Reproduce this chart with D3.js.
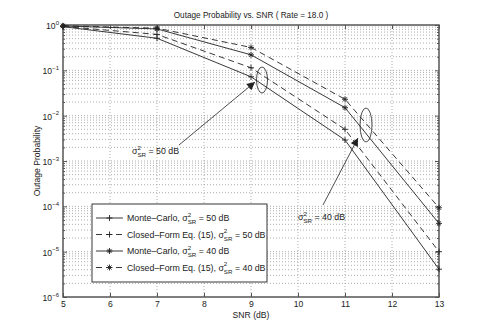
<!DOCTYPE html>
<html>
<head>
<meta charset="utf-8">
<script src="https://cdn.jsdelivr.net/npm/d3@7"></script>
<style>
  html, body { margin: 0; padding: 0; background: #fff; overflow: hidden; }
  svg { display: block; }
  text { font-family: "Liberation Sans", Arial, sans-serif; fill: #222; }
</style>
</head>
<body>
<svg width="485" height="334"></svg>
<script>
const snr = [5, 7, 9, 11, 13]
const mc50 = [0.92, 0.51, 0.072, 0.0029, 4.1e-6]
const cf50 = [0.93, 0.62, 0.114, 0.005, 1.0e-5]
const mc40 = [0.95, 0.82, 0.22, 0.015, 4.2e-5]
const cf40 = [0.96, 0.85, 0.32, 0.023, 9.3e-5]
const xTicks = [5, 6, 7, 8, 9, 10, 11, 12, 13]
const yExps = [0, -1, -2, -3, -4, -5, -6]

const series = [
  { name: 'Monte–Carlo, ', sr: '= 50 dB', values: mc50, dashed: false, marker: 'plus' },
  { name: 'Closed–Form Eq. (15),  ', sr: '= 50 dB', values: cf50, dashed: true, marker: 'plus' },
  { name: 'Monte–Carlo, ', sr: '= 40 dB', values: mc40, dashed: false, marker: 'star' },
  { name: 'Closed–Form Eq. (15),  ', sr: '= 40 dB', values: cf40, dashed: true, marker: 'star' }
]

const svg = d3.select('svg')
const margin = { top: 25, right: 46, bottom: 37, left: 63 }
const innerWidth = 485 - margin.left - margin.right
const innerHeight = 334 - margin.top - margin.bottom
const ink = '#222'
const fs = 8.6

const g = svg.append('g').attr('transform', `translate(${margin.left},${margin.top})`)

const xScale = d3.scaleLinear().domain([5, 13]).range([0, innerWidth])
const yScale = d3.scaleLog().domain([1e-6, 1]).range([innerHeight, 0])

// minor values for the log axis
const minor = []
for (let e = -6; e < 0; e++) {
  for (let m = 2; m <= 9; m++) minor.push(m * Math.pow(10, e))
}

// grid
const grid = g.append('g').attr('stroke', '#999').attr('stroke-width', 0.8).attr('stroke-dasharray', '1,2')
grid.selectAll('line.gx').data(xTicks.slice(1, -1)).join('line')
  .attr('x1', d => xScale(d)).attr('x2', d => xScale(d))
  .attr('y1', 0).attr('y2', innerHeight)
grid.selectAll('line.gy').data(minor.concat(yExps.slice(1, -1).map(e => Math.pow(10, e)))).join('line')
  .attr('x1', 0).attr('x2', innerWidth)
  .attr('y1', d => yScale(d)).attr('y2', d => yScale(d))

// tick-only axes (no labels)
const tickOnly = (axis, tx, ty) => g.append('g').attr('transform', `translate(${tx},${ty})`).call(axis)
  .call(a => a.select('.domain').remove())
  .call(a => a.selectAll('text').remove())
  .call(a => a.selectAll('line').attr('stroke', '#555'))

const xAxis = d3.axisBottom(xScale).tickValues(xTicks).tickSize(-4).tickPadding(4).tickFormat(d3.format('d'))
g.append('g').attr('transform', `translate(0,${innerHeight})`).call(xAxis)
  .call(a => a.select('.domain').remove())
  .call(a => a.selectAll('line').attr('stroke', '#555'))
  .call(a => a.selectAll('text').attr('font-size', fs).style('fill', ink))
tickOnly(d3.axisTop(xScale).tickValues(xTicks).tickSize(-4), 0, 0)

const yMajor = yExps.map(e => Math.pow(10, e))
tickOnly(d3.axisLeft(yScale).tickValues(yMajor).tickSize(-4), 0, 0)
tickOnly(d3.axisRight(yScale).tickValues(yMajor).tickSize(-4), innerWidth, 0)
tickOnly(d3.axisLeft(yScale).tickValues(minor).tickSize(-2), 0, 0)
tickOnly(d3.axisRight(yScale).tickValues(minor).tickSize(-2), innerWidth, 0)

// y tick labels 10^e, exponent as its own text
yExps.forEach(e => {
  const y = yScale(Math.pow(10, e))
  const expText = g.append('text').attr('font-size', 6).attr('y', y - 0.5)
    .attr('text-anchor', 'end').attr('x', -4)
    .text(e === 0 ? '0' : '\u2212' + (-e))
  const w = expText.node().getComputedTextLength()
  g.append('text').attr('font-size', fs).attr('x', -4 - w).attr('y', y + 4)
    .attr('text-anchor', 'end').text('10')
})

// box
g.append('rect').attr('width', innerWidth).attr('height', innerHeight)
  .attr('fill', 'none').attr('stroke', '#555').attr('stroke-width', 1.5)

// markers
function drawMarker (sel, type, x, y) {
  const s = 3
  const m = sel.append('g').attr('transform', `translate(${x},${y})`).attr('stroke', ink).attr('stroke-width', 0.9)
  m.append('line').attr('x1', -s).attr('x2', s)
  m.append('line').attr('y1', -s).attr('y2', s)
  if (type === 'star') {
    m.append('line').attr('x1', -s * 0.7).attr('x2', s * 0.7).attr('y1', -s * 0.7).attr('y2', s * 0.7)
    m.append('line').attr('x1', -s * 0.7).attr('x2', s * 0.7).attr('y1', s * 0.7).attr('y2', -s * 0.7)
  }
}

const line = d3.line().x((d, i) => xScale(snr[i])).y(d => yScale(d))
const plot = g.append('g')
series.forEach(s => {
  plot.append('path').attr('d', line(s.values))
    .attr('fill', 'none').attr('stroke', ink).attr('stroke-width', 0.9)
    .attr('stroke-dasharray', s.dashed ? '6,4' : null)
  s.values.forEach((v, i) => drawMarker(plot, s.marker, xScale(snr[i]), yScale(v)))
})

// annotations
svg.append('defs').append('marker').attr('id', 'ah')
  .attr('viewBox', '0 0 10 10').attr('refX', 10).attr('refY', 5)
  .attr('markerWidth', 10).attr('markerHeight', 8).attr('markerUnits', 'userSpaceOnUse')
  .attr('orient', 'auto')
  .append('path').attr('d', 'M0,0 L10,5 L0,10 z').attr('fill', ink)

const ann = svg.append('g')
ann.append('ellipse').attr('cx', 262).attr('cy', 80).attr('rx', 5.5).attr('ry', 13)
  .attr('fill', 'none').attr('stroke', ink).attr('stroke-width', 0.8)
ann.append('ellipse').attr('cx', 366).attr('cy', 125).attr('rx', 6).attr('ry', 17)
  .attr('fill', 'none').attr('stroke', ink).attr('stroke-width', 0.8)
ann.append('line').attr('x1', 179).attr('y1', 145).attr('x2', 255).attr('y2', 82)
  .attr('stroke', ink).attr('stroke-width', 0.8).attr('marker-end', 'url(#ah)')
ann.append('line').attr('x1', 323).attr('y1', 205).attr('x2', 358).attr('y2', 138)
  .attr('stroke', ink).attr('stroke-width', 0.8).attr('marker-end', 'url(#ah)')

// "prefix σ²_SR suffix" built from separate text pieces placed side by side
function sigmaText (sel, x, y, prefix, suffix, size) {
  const small = size * 0.7
  const main = sel.append('text').attr('x', x).attr('y', y).attr('font-size', size).text(prefix + 'σ')
  const x1 = x + main.node().getComputedTextLength()
  sel.append('text').attr('x', x1).attr('y', y - 4.5).attr('font-size', small).text('2')
  const sr = sel.append('text').attr('x', x1).attr('y', y + 3).attr('font-size', small).text('SR')
  const x2 = x1 + sr.node().getComputedTextLength() + 2.5
  sel.append('text').attr('x', x2).attr('y', y).attr('font-size', size).text(suffix)
}
sigmaText(ann, 132, 154, '', '= 50 dB', 8.8)
sigmaText(ann, 298, 220, '', '= 40 dB', 8.8)

// legend
const lg = svg.append('g').attr('transform', 'translate(92,204)')
lg.append('rect').attr('width', 175).attr('height', 78)
  .attr('fill', '#fff').attr('stroke', ink).attr('stroke-width', 0.9)
series.forEach((s, i) => {
  const y = 14 + i * 16.5
  lg.append('line').attr('x1', 4).attr('x2', 31).attr('y1', y).attr('y2', y)
    .attr('stroke', ink).attr('stroke-width', 0.9)
    .attr('stroke-dasharray', s.dashed ? '6,4' : null)
  drawMarker(lg, s.marker, 17.5, y)
  sigmaText(lg, 35, y + 3.2, s.name, s.sr, 8.8)
})

// titles
svg.append('text').attr('x', margin.left + innerWidth / 2).attr('y', 18)
  .attr('text-anchor', 'middle').attr('font-size', 8.2)
  .text('Outage Probability vs. SNR ( Rate = 18.0 )')
svg.append('text').attr('x', margin.left + innerWidth / 2).attr('y', 318)
  .attr('text-anchor', 'middle').attr('font-size', fs).text('SNR (dB)')
svg.append('text').attr('transform', `translate(40,${margin.top + innerHeight / 2}) rotate(-90)`)
  .attr('text-anchor', 'middle').attr('font-size', fs).text('Outage Probability')
</script>
</body>
</html>
